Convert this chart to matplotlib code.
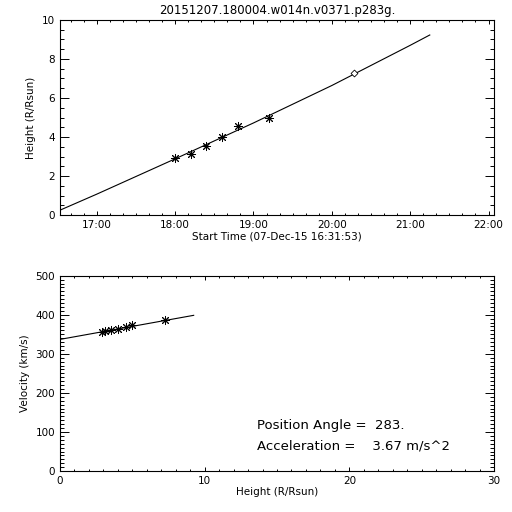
import matplotlib
matplotlib.use('Agg')
import matplotlib.pyplot as plt
from matplotlib.ticker import MultipleLocator, FuncFormatter
import numpy as np

# height-time measurements (asterisks) and extrapolated point (diamond)
times = ['18:00', '18:12', '18:24', '18:36', '18:48', '19:12']
heights = [2.91, 3.13, 3.54, 4.00, 4.56, 4.99]
extra_time = '20:17'
extra_height = 7.27

# fitted height-time curve
fit_times = ['16:31:53', '17:00', '18:00', '19:00', '20:00', '21:00', '21:15']
fit_heights = [0.25, 1.07, 2.88, 4.72, 6.64, 8.70, 9.23]

# velocity vs height
vel_heights = [2.91, 3.13, 3.54, 4.00, 4.56, 4.99, 7.27]
velocities = [356.5, 358.5, 361.0, 363.5, 368.5, 373.0, 386.5]
vfit_heights = [0.0, 9.24]
vfit_vel = [337.0, 398.6]

title = '20151207.180004.w014n.v0371.p283g.'
start_label = 'Start Time (07-Dec-15 16:31:53)'
pos_angle = '283.'
accel = '3.67'


def to_hours(s):
    parts = [float(p) for p in s.split(':')]
    while len(parts) < 3:
        parts.append(0.0)
    return parts[0] + parts[1] / 60 + parts[2] / 3600


t = np.array([to_hours(s) for s in times])
ft = np.array([to_hours(s) for s in fit_times])
t0 = to_hours('16:31:53')

fs = 7.5
ast = dict(marker=(8, 2, 0), ms=6.5, mew=0.7, color='k', ls='none')


def idl_axes(ax, ylen):
    ax.tick_params(which='both', direction='in', top=True, right=True,
                   labelsize=fs, width=0.7)
    ax.tick_params(axis='y', which='major', length=ylen)
    ax.tick_params(axis='y', which='minor', length=ylen / 2)
    ax.tick_params(axis='x', which='major', length=3.0)
    ax.tick_params(axis='x', which='minor', length=1.5)
    for sp in ax.spines.values():
        sp.set_linewidth(0.8)


fig = plt.figure(figsize=(5.12, 5.12), dpi=100)

# --- height vs time
ax1 = fig.add_axes([0.1172, 0.580, 0.8477, 0.381])
ax1.plot(ft, fit_heights, color='k', lw=0.8)
ax1.plot(t, heights, **ast)
ax1.plot([to_hours(extra_time)], [extra_height], marker='D', ms=3.5,
         mfc='white', mec='k', mew=0.6, ls='none')
ax1.set_xlim(t0, 22.07)
ax1.set_ylim(0, 10)
ax1.xaxis.set_major_locator(MultipleLocator(1))
ax1.xaxis.set_minor_locator(MultipleLocator(1 / 6))
ax1.xaxis.set_major_formatter(FuncFormatter(lambda v, p: '%02d:00' % round(v)))
ax1.yaxis.set_major_locator(MultipleLocator(2))
ax1.yaxis.set_minor_locator(MultipleLocator(0.5))
idl_axes(ax1, 6.2)
ax1.set_ylabel('Height (R/Rsun)', fontsize=fs)
ax1.set_xlabel(start_label, fontsize=fs, labelpad=1)
ax1.set_title(title, fontsize=8.5, pad=4)

# --- velocity vs height
ax2 = fig.add_axes([0.1172, 0.080, 0.8477, 0.3815])
ax2.plot(vfit_heights, vfit_vel, color='k', lw=0.8)
ax2.plot(vel_heights, velocities, **ast)
ax2.set_xlim(0, 30)
ax2.set_ylim(0, 500)
ax2.xaxis.set_major_locator(MultipleLocator(10))
ax2.xaxis.set_minor_locator(MultipleLocator(1))
ax2.yaxis.set_major_locator(MultipleLocator(100))
ax2.yaxis.set_minor_locator(MultipleLocator(10))
idl_axes(ax2, 6.2)
ax2.set_xlabel('Height (R/Rsun)', fontsize=fs, labelpad=0.5)
ax2.set_ylabel('Velocity (km/s)', fontsize=fs)
ax2.text(13.6, 117, 'Position Angle =  ' + pos_angle, fontsize=9.5,
         va='center')
ax2.text(13.6, 64, 'Acceleration =    ' + accel + ' m/s^2', fontsize=9.5,
         va='center')

fig.savefig('out.png', dpi=100, facecolor='white')
